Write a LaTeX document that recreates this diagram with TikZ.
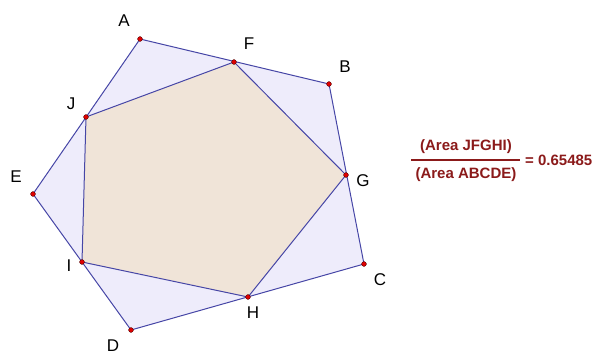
\documentclass[tikz,border=0pt]{standalone}
\usepackage{fontspec}
\usepackage{xcolor}
\usepackage{tikz}
\usetikzlibrary{calc}
\newfontfamily\ptfont{Liberation Sans}
\definecolor{edgeblue}{HTML}{4646A6}
\definecolor{outerfill}{HTML}{EEECFB}
\definecolor{innerfill}{HTML}{F0E4D8}
\definecolor{dotred}{HTML}{E00000}
\definecolor{ratiored}{HTML}{8B1A1A}
\tikzset{
  outerpoly/.style={draw=edgeblue, fill=outerfill, line width=1pt, line join=round},
  innerpoly/.style={draw=edgeblue, fill=innerfill, line width=1pt, line join=round},
  vdot/.style={circle, fill=dotred, draw=black!70!red, line width=0.4pt,
    inner sep=0pt, minimum size=4.8pt},
  vlabel/.style={font=\ptfont\fontsize{17}{19}\selectfont, inner sep=0pt},
  ratiotext/.style={font=\ptfont\bfseries\fontsize{15}{17}\selectfont,
    color=ratiored, inner sep=0pt},
}

\begin{document}
\begin{tikzpicture}[x=1pt, y=1pt]
  \useasboundingbox (0,0) rectangle (595,354);
  % outer pentagon
  \coordinate (A) at (140,315);
  \coordinate (B) at (329,270);
  \coordinate (C) at (364,90);
  \coordinate (D) at (131,24);
  \coordinate (E) at (33,160);
  % inner pentagon
  \coordinate (F) at (234,292);
  \coordinate (G) at (346,179);
  \coordinate (H) at (248,57);
  \coordinate (I) at (82,92);
  \coordinate (J) at (86,237);

  \draw[outerpoly] (A) -- (B) -- (C) -- (D) -- (E) -- cycle;
  \draw[innerpoly] (J) -- (F) -- (G) -- (H) -- (I) -- cycle;

  \foreach \p in {A,B,C,D,E,F,G,H,I,J}
    \node[vdot] (dot\p) at (\p) {};

  % vertex labels
  \node[vlabel] (labA) at (124,333) {A};
  \node[vlabel] (labB) at (345,287) {B};
  \node[vlabel] (labC) at (380,74)  {C};
  \node[vlabel] (labD) at (113,8)   {D};
  \node[vlabel] (labE) at (16,177)  {E};
  \node[vlabel] (labF) at (249,310) {F};
  \node[vlabel] (labG) at (363,173) {G};
  \node[vlabel] (labH) at (253,41)  {H};
  \node[vlabel] (labI) at (69,88)   {I};
  \node[vlabel] (labJ) at (71,250)  {J};

  % area ratio
  \node[ratiotext] (num) at (466,207) {(Area JFGHI)};
  \node[ratiotext] (den) at (466,179) {(Area ABCDE)};
  \node[ratiotext, anchor=west] (eq) at (525,194) {= 0.65485};
  \draw[ratiored, line width=1.3pt] (411,194) -- (520,194);
\end{tikzpicture}
\end{document}
